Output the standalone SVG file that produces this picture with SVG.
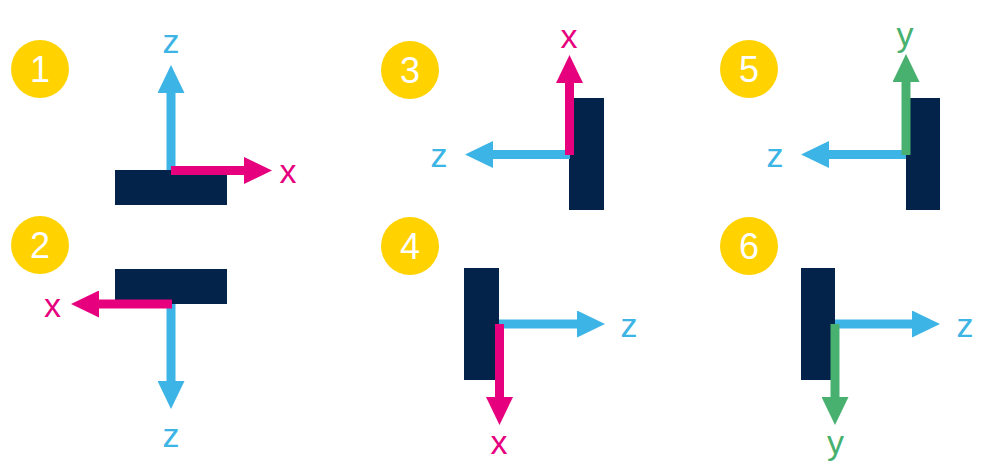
<svg xmlns="http://www.w3.org/2000/svg" width="988" height="476" viewBox="0 0 988 476">
<style>
.badge circle{fill:#FFD200}
.badge text{fill:#FFFFFF;font-family:"Liberation Sans",Arial,sans-serif;font-size:36px;text-anchor:middle}
.plate{fill:#03234B}
.lbl{font-family:"Liberation Sans",Arial,sans-serif;font-size:34px;text-anchor:middle}
.cb{fill:#3CB4E6}.cp{fill:#E6007E}.cg{fill:#49B170}
.ab{stroke:#3CB4E6;stroke-width:9;fill:none;marker-end:url(#hb)}
.ap{stroke:#E6007E;stroke-width:9;fill:none;marker-end:url(#hp)}
.ag{stroke:#49B170;stroke-width:9;fill:none;marker-end:url(#hg)}
</style>
<defs>
<marker id="hb" markerUnits="userSpaceOnUse" markerWidth="28" markerHeight="27" viewBox="0 0 28 27" refX="1" refY="13.5" orient="auto"><path d="M0,0 L28,13.5 L0,27 Z" fill="#3CB4E6"/></marker>
<marker id="hp" markerUnits="userSpaceOnUse" markerWidth="28" markerHeight="27" viewBox="0 0 28 27" refX="1" refY="13.5" orient="auto"><path d="M0,0 L28,13.5 L0,27 Z" fill="#E6007E"/></marker>
<marker id="hg" markerUnits="userSpaceOnUse" markerWidth="28" markerHeight="27" viewBox="0 0 28 27" refX="1" refY="13.5" orient="auto"><path d="M0,0 L28,13.5 L0,27 Z" fill="#49B170"/></marker>
</defs>
<rect width="988" height="476" fill="#FFFFFF"/>

<g id="panel1">
<g class="badge"><circle cx="40" cy="69" r="29"/><text x="40" y="82">1</text></g>
<rect class="plate" x="115" y="170" width="112" height="35"/>
<text class="lbl cb" x="171" y="52.5">z</text>
<text class="lbl cp" x="288" y="183">x</text>
</g>
<g id="panel2">
<g class="badge"><circle cx="40" cy="245" r="29"/><text x="40" y="258">2</text></g>
<rect class="plate" x="115" y="269" width="112" height="35"/>
<text class="lbl cp" x="52.5" y="316.5">x</text>
<text class="lbl cb" x="171" y="447">z</text>
</g>
<g id="panel3">
<g class="badge"><circle cx="410" cy="70" r="29"/><text x="410" y="83">3</text></g>
<rect class="plate" x="569" y="98" width="35" height="112"/>
<text class="lbl cp" x="569" y="48">x</text>
<text class="lbl cb" x="439" y="166.5">z</text>
</g>
<g id="panel4">
<g class="badge"><circle cx="410" cy="246" r="29"/><text x="410" y="259">4</text></g>
<rect class="plate" x="464" y="268" width="35" height="112"/>
<text class="lbl cb" x="629" y="337">z</text>
<text class="lbl cp" x="499" y="454">x</text>
</g>
<g id="panel5">
<g class="badge"><circle cx="749" cy="69" r="29"/><text x="749" y="82">5</text></g>
<rect class="plate" x="906" y="98" width="34" height="112"/>
<text class="lbl cg" x="905" y="46">y</text>
<text class="lbl cb" x="775" y="166.5">z</text>
</g>
<g id="panel6">
<g class="badge"><circle cx="749" cy="246" r="29"/><text x="749" y="259">6</text></g>
<rect class="plate" x="801" y="268" width="34" height="112"/>
<text class="lbl cb" x="965" y="337">z</text>
<text class="lbl cg" x="835.5" y="454">y</text>
</g>

<g id="connectors">
<path class="ab" d="M171,170 V92"/>
<path class="ap" d="M171,170.5 H245"/>
<path class="ab" d="M171,304 V382"/>
<path class="ap" d="M172,304 H98"/>
<path class="ab" d="M570,154.5 H492"/>
<path class="ap" d="M569.5,155 V82"/>
<path class="ab" d="M499,324 H578"/>
<path class="ap" d="M499.5,324 V398"/>
<path class="ab" d="M906,154.5 H828"/>
<path class="ag" d="M906,155 V81"/>
<path class="ab" d="M835,324 H913"/>
<path class="ag" d="M835,324 V398"/>
</g>
</svg>
